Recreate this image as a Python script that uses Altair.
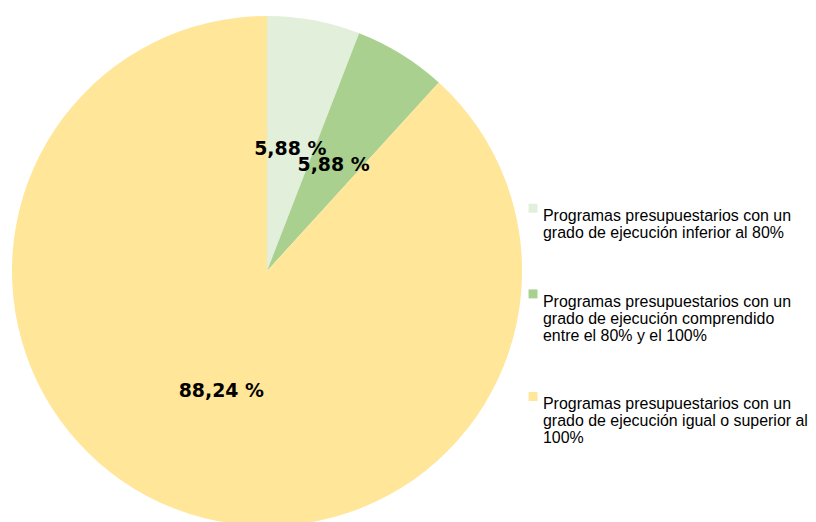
import altair as alt
import pandas as pd

categories = [
    "Programas presupuestarios con un|grado de ejecución inferior al 80%",
    "Programas presupuestarios con un|grado de ejecución comprendido|entre el 80% y el 100%",
    "Programas presupuestarios con un|grado de ejecución igual o superior al|100%",
]
values = [5.88, 5.88, 88.24]
labels = ["5,88 %", "5,88 %", "88,24 %"]
colors = ["#E2EFDA", "#A9D08E", "#FFE699"]

df = pd.DataFrame({"cat": categories, "value": values, "label": labels, "order": [0, 1, 2]})

base = alt.Chart(df).encode(
    theta=alt.Theta("value:Q", stack=True),
    order=alt.Order("order:Q"),
)

pie = base.mark_arc(radius=256).encode(
    color=alt.Color(
        "cat:N",
        scale=alt.Scale(domain=categories, range=colors),
        legend=alt.Legend(
            title=None,
            orient="none",
            legendX=519,
            legendY=192,
            symbolType="square",
            symbolSize=81,
            symbolStrokeWidth=0,
            labelFont="Liberation Sans",
            labelFontSize=16,
            labelColor="#000000",
            labelLimit=400,
            labelBaseline="top",
            labelOffset=2,
            rowPadding=45,
            labelExpr="split(datum.label, '|')",
        ),
    )
)

text = base.mark_text(
    radius=127, dy=2, font="DejaVu Sans", fontWeight="bold", fontSize=19, color="#000000"
).encode(text="label:N")

chart = (
    alt.layer(pie, text)
    .properties(width=520, height=526, padding=0)
    .configure_view(stroke=None)
    .configure(style={"guide-label": {"lineHeight": 17}})
)

chart.save("out.html", embed_options={"renderer": "svg", "actions": False})
